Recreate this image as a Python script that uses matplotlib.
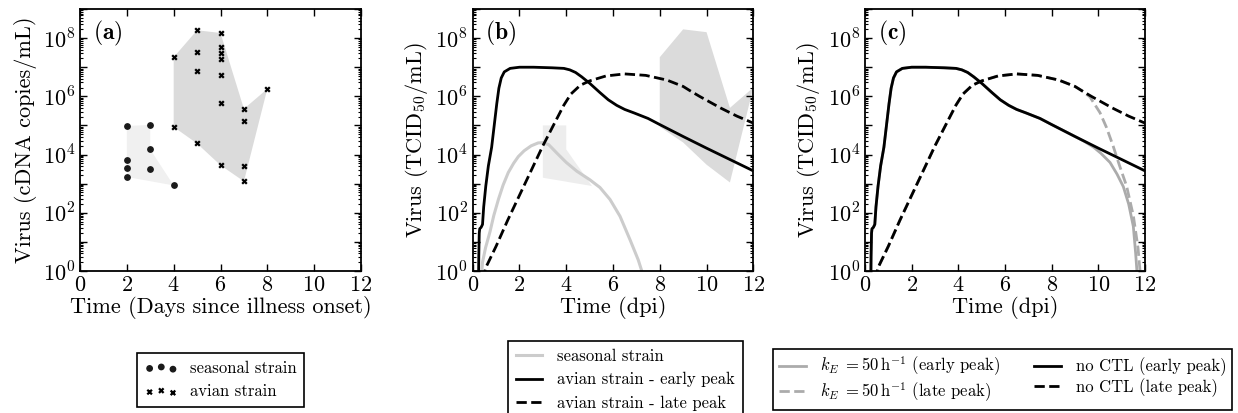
import numpy as np
import matplotlib
matplotlib.use("Agg")
import matplotlib.pyplot as plt
from matplotlib.ticker import FixedLocator, FuncFormatter, NullFormatter

plt.rcParams.update({
    'font.family': 'serif',
    'font.serif': ['cmr10'],
    'mathtext.fontset': 'cm',
    'axes.formatter.use_mathtext': True,
    'font.size': 16,
    'axes.linewidth': 1.3,
})

# ---- panel (a): patient data (days since onset, copies/mL) ----
seasonal_days = [2, 2, 2, 2, 3, 3, 3, 4]
seasonal_vals = [9.6e4, 6.7e3, 3.5e3, 1.7e3, 1.04e5, 1.5e4, 3.3e3, 8.7e2]
avian_days = [4, 4, 5, 5, 5, 5, 6, 6, 6, 6, 6, 6, 6, 7, 7, 7, 7, 8]
avian_vals = [2.2e7, 8.9e4, 1.86e8, 3.4e7, 7.3e6, 2.4e4, 1.5e8, 4.9e7, 3.2e7,
              1.9e7, 5.6e6, 6e5, 4.3e3, 3.7e5, 1.4e5, 4e3, 1.2e3, 1.8e6]

# envelopes of the data (polygon outlines)
seasonal_env_a_t = [2, 3, 3, 4, 2]
seasonal_env_a_v = [9.6e4, 1.04e5, 1.5e4, 8.7e2, 1.7e3]
avian_env_a_t = [4, 5, 6, 7, 8, 7, 6, 5, 4]
avian_env_a_v = [2.2e7, 1.86e8, 1.5e8, 3.7e5, 1.8e6, 1.2e3, 4.3e3, 2.4e4, 8.9e4]

# envelopes shown in panel (b), in dpi
seasonal_env_b_t = [3, 4, 4, 5.1, 3]
seasonal_env_b_v = [1e5, 1e5, 1.5e4, 8.3e2, 1.6e3]
avian_env_b_t = [8, 9, 10, 11, 12, 11, 10, 9, 8]
avian_env_b_v = [2.2e7, 2e8, 1.6e8, 4e5, 2e6, 1.1e3, 4.5e3, 2.6e4, 9e4]

# ---- model curves, time (dpi) and log10 virus ----
early_t = [0.24, 0.26, 0.28, 0.30, 0.36, 0.42, 0.47, 0.56, 0.67, 0.81, 0.92,
           1.03, 1.12, 1.22, 1.35, 1.6, 2.0, 2.6, 3.4, 3.9, 4.15, 4.4, 4.66,
           5.0, 5.44, 5.8, 6.16, 6.5, 6.9, 7.5, 8.0, 9.0, 10.0, 11.0, 12.0]
early_log = [-1, 0.5, 1.3, 1.45, 1.5, 1.6, 2.2, 2.92, 3.61, 4.25, 5.0,
             5.75, 6.28, 6.63, 6.84, 6.96, 7.0, 7.0, 6.98, 6.96, 6.91, 6.82, 6.67,
             6.45, 6.13, 5.88, 5.69, 5.55, 5.43, 5.24, 5.03, 4.62, 4.22, 3.83, 3.44]

late_t = [0.45, 0.55, 1.0, 1.5, 2.0, 2.5, 3.0, 3.5, 3.9, 4.2, 4.6, 5.0, 5.7,
          6.5, 7.4, 8.3, 9.0, 9.3, 9.7, 10.6, 11.3, 12.0]
late_log = [-0.3, 0.1, 0.85, 1.75, 2.6, 3.45, 4.3, 5.08, 5.7, 6.08, 6.38, 6.53,
            6.7, 6.77, 6.72, 6.56, 6.34, 6.19, 6.0, 5.6, 5.32, 5.08]

seasonal_t = [0.36, 0.42, 0.55, 0.74, 0.9, 1.1, 1.3, 1.52, 1.75, 1.95, 2.2, 2.5,
              2.8, 3.0, 3.25, 3.6, 4.0, 4.45, 5.0, 5.44, 5.87, 6.3, 6.73, 7.08, 7.35]
seasonal_log = [-0.3, 0.3, 0.8, 1.35, 1.9, 2.46, 2.95, 3.38, 3.7, 3.93, 4.13, 4.3,
                4.4, 4.41, 4.34, 4.05, 3.73, 3.43, 3.14, 2.87, 2.46, 1.88, 1.07, 0.38, -0.3]

# CTL (k_E = 50/h) runs depart from the no-CTL curves late in infection
kE_early_tail_t = [9.4, 9.8, 10.1, 10.5, 10.8, 11.07, 11.3, 11.5, 11.6, 11.68]
kE_early_tail_log = [4.45, 4.25, 4.05, 3.73, 3.33, 2.9, 2.3, 1.53, 0.6, -0.3]
kE_late_tail_t = [9.64, 10.07, 10.35, 10.64, 10.9, 11.21, 11.5, 11.7, 11.82]
kE_late_tail_log = [5.98, 5.44, 4.93, 4.28, 3.64, 2.92, 1.9, 0.8, -0.3]

early_t = np.array(early_t); early_v = 10 ** np.array(early_log)
late_t = np.array(late_t); late_v = 10 ** np.array(late_log)
seasonal_v = 10 ** np.array(seasonal_log)
m_e = early_t <= 9.0
kE_early_t = np.concatenate([early_t[m_e], kE_early_tail_t])
kE_early_v = np.concatenate([early_v[m_e], 10 ** np.array(kE_early_tail_log)])
m_l = late_t <= 9.3
kE_late_t = np.concatenate([late_t[m_l], kE_late_tail_t])
kE_late_v = np.concatenate([late_v[m_l], 10 ** np.array(kE_late_tail_log)])

W, H = 1238, 413
fig = plt.figure(figsize=(W / 100, H / 100), dpi=100)
ax_a = fig.add_axes([80 / W, 1 - 271 / H, 281 / W, 262 / H])
ax_b = fig.add_axes([472.7 / W, 1 - 271 / H, 280.6 / W, 262 / H])
ax_c = fig.add_axes([865 / W, 1 - 271 / H, 280 / W, 262 / H])


def ylab(v, pos):
    e = int(round(np.log10(v)))
    return r'$10^{%d}$' % e if e % 2 == 0 else ''


for ax in (ax_a, ax_b, ax_c):
    ax.set_yscale('log')
    ax.set_xlim(0, 12)
    ax.set_ylim(1, 1e9)
    ax.set_xticks(range(0, 13, 2))
    ax.yaxis.set_major_locator(FixedLocator(10.0 ** np.arange(0, 10)))
    ax.yaxis.set_major_formatter(FuncFormatter(ylab))
    minors = [m * 10.0 ** e for e in range(0, 9) for m in range(2, 10)]
    ax.yaxis.set_minor_locator(FixedLocator(minors))
    ax.yaxis.set_minor_formatter(NullFormatter())
    ax.tick_params(which='both', direction='in', top=True, right=True, labelsize=16)
    ax.tick_params(which='major', length=5, width=1)
    ax.tick_params(which='minor', length=2.5, width=0.8)
    ax.tick_params(axis='x', pad=3)

leg_kw = dict(fontsize=12, fancybox=False, framealpha=1, edgecolor='black',
              handlelength=1.6, handletextpad=0.9, borderpad=0.45, labelspacing=0.5,
              borderaxespad=0)

# (a)
ax_a.fill(seasonal_env_a_t, seasonal_env_a_v, color='0.94', lw=0, zorder=1)
ax_a.fill(avian_env_a_t, avian_env_a_v, color='0.86', lw=0, zorder=1)
ax_a.scatter(seasonal_days, seasonal_vals, marker='o', s=15, color='0.1', zorder=3,
             label='seasonal strain')
ax_a.scatter(avian_days, avian_vals, marker='x', s=11, color='black', linewidths=1.6,
             zorder=3, label='avian strain')
ax_a.set_xlabel('Time (Days since illness onset)', labelpad=1)
ax_a.set_ylabel('Virus (cDNA copies/mL)')
ax_a.text(0.045, 0.905, r'$\mathbf{(a)}$', transform=ax_a.transAxes, fontsize=17,
          ha='left', va='center')
la = ax_a.legend(loc='upper center', bbox_to_anchor=(220.5 / W, 1 - 353 / H),
                 bbox_transform=fig.transFigure, scatterpoints=3,
                 **dict(leg_kw, handlelength=2.0, handletextpad=0.7))
la.get_frame().set_linewidth(1.2)

# (b)
ax_b.fill(seasonal_env_b_t, seasonal_env_b_v, color='0.93', lw=0, zorder=1)
ax_b.fill(avian_env_b_t, avian_env_b_v, color='0.86', lw=0, zorder=1)
ax_b.plot(seasonal_t, seasonal_v, color='0.8', lw=2.2, label='seasonal strain', zorder=2)
ax_b.plot(early_t, early_v, color='black', lw=2, label='avian strain - early peak', zorder=3)
ax_b.plot(late_t, late_v, color='black', lw=2, ls='--', label='avian strain - late peak', zorder=3)
ax_b.set_xlabel('Time (dpi)', labelpad=1)
ax_b.set_ylabel(r'Virus (TCID$_{50}$/mL)')
ax_b.text(0.045, 0.905, r'$\mathbf{(b)}$', transform=ax_b.transAxes, fontsize=17,
          ha='left', va='center')
lb = ax_b.legend(loc='upper center', bbox_to_anchor=(625.5 / W, 1 - 341 / H),
                 bbox_transform=fig.transFigure, **leg_kw)
lb.get_frame().set_linewidth(1.2)

# (c)
h1, = ax_c.plot(kE_early_t, kE_early_v, color='0.67', lw=2, zorder=2,
                label=r'$k_E\;=50\,\mathrm{h}^{-1}$ (early peak)')
h2, = ax_c.plot(kE_late_t, kE_late_v, color='0.67', lw=2, ls='--', zorder=2,
                label=r'$k_E\;=50\,\mathrm{h}^{-1}$ (late peak)')
h3, = ax_c.plot(early_t, early_v, color='black', lw=2, zorder=3, label='no CTL (early peak)')
h4, = ax_c.plot(late_t, late_v, color='black', lw=2, ls='--', zorder=3, label='no CTL (late peak)')
ax_c.set_xlabel('Time (dpi)', labelpad=1)
ax_c.set_ylabel(r'Virus (TCID$_{50}$/mL)')
ax_c.text(0.045, 0.905, r'$\mathbf{(c)}$', transform=ax_c.transAxes, fontsize=17,
          ha='left', va='center')
lc = ax_c.legend(handles=[h1, h2, h3, h4], ncol=2, columnspacing=2.0, loc='upper left',
                 bbox_to_anchor=(773 / W, 1 - 349 / H), bbox_transform=fig.transFigure,
                 **dict(leg_kw, labelspacing=0.12, borderpad=0.35))
lc.get_frame().set_linewidth(1.2)

fig.savefig('out.png', dpi=100)
plt.close(fig)
